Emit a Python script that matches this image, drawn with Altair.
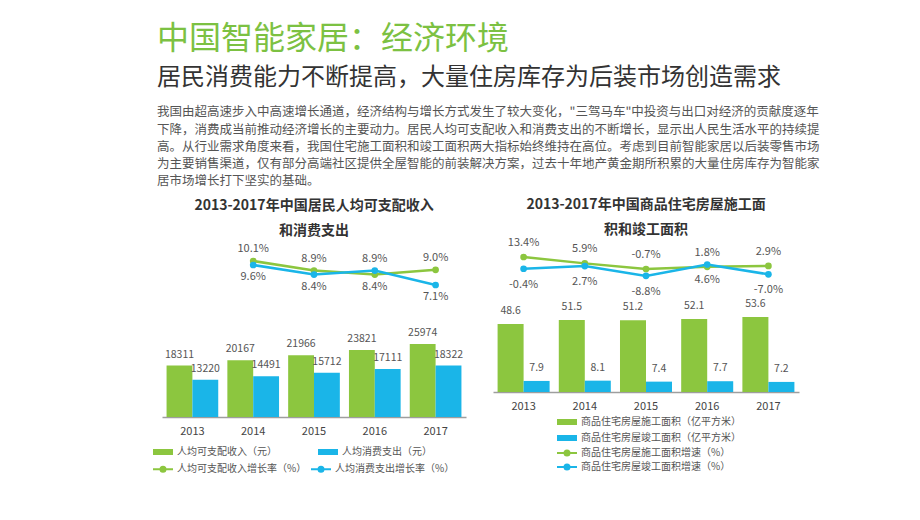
import altair as alt
import pandas as pd

FONT = "Noto Sans CJK SC"
GREEN = "#8cc63f"
BLUE = "#1ab5e8"
TITLE_GREEN = "#7cc142"
TEXT = "#555555"

# ---------------- data ----------------
years = ["2013", "2014", "2015", "2016", "2017"]

# left panel
income = [18311, 20167, 21966, 23821, 25974]
consumption = [13220, 14491, 15712, 17111, 18322]
left_rate_years = ["2014", "2015", "2016", "2017"]
income_growth = [10.1, 8.9, 8.4, 9.0]
consumption_growth = [9.6, 8.4, 8.9, 7.1]
L_BAR = ["人均可支配收入（元）", "人均消费支出（元）"]
L_LINE = ["人均可支配收入增长率（%）", "人均消费支出增长率（%）"]
L_TITLE = ["2013-2017年中国居民人均可支配收入", "和消费支出"]

# right panel
construction = [48.6, 51.5, 51.2, 52.1, 53.6]
completion = [7.9, 8.1, 7.4, 7.7, 7.2]
right_rate_years = ["2013", "2014", "2015", "2016", "2017"]
construction_growth = [13.4, 5.9, -0.7, 1.8, 2.9]
completion_growth = [-0.4, 2.7, -8.8, 4.6, -7.0]
R_BAR = ["商品住宅房屋施工面积（亿平方米）", "商品住宅房屋竣工面积（亿平方米）"]
R_LINE = ["商品住宅房屋施工面积增速（%）", "商品住宅房屋竣工面积增速（%）"]
R_TITLE = ["2013-2017年中国商品住宅房屋施工面", "积和竣工面积"]

MAIN_TITLE = "中国智能家居：经济环境"
SUB_TITLE = "居民消费能力不断提高，大量住房库存为后装市场创造需求"
PARAGRAPH = [
    "我国由超高速步入中高速增长通道，经济结构与增长方式发生了较大变化，\"三驾马车\"中投资与出口对经济的贡献度逐年",
    "下降，消费成当前推动经济增长的主要动力。居民人均可支配收入和消费支出的不断增长，显示出人民生活水平的持续提",
    "高。从行业需求角度来看，我国住宅施工面积和竣工面积两大指标始终维持在高位。考虑到目前智能家居以后装零售市场",
    "为主要销售渠道，仅有部分高端社区提供全屋智能的前装解决方案，过去十年地产黄金期所积累的大量住房库存为智能家",
    "居市场增长打下坚实的基础。",
]

# legend symbol shapes (unit path, scaled by sqrt(size)/2)
RECT_PATH = "M-2,-0.6H2V0.6H-2Z"
LINE_PATH = ("M-2,0H2 "
             "M0.1,0A0.1,0.1 0 1 1 -0.1,0A0.1,0.1 0 1 1 0.1,0 "
             "M0.3,0A0.3,0.3 0 1 1 -0.3,0A0.3,0.3 0 1 1 0.3,0 "
             "M0.5,0A0.5,0.5 0 1 1 -0.5,0A0.5,0.5 0 1 1 0.5,0")


def make_legend(shape, columns, lx, ly, row_pad, col_pad, stroke_w=None):
    kw = dict(title=None, orient="none", legendX=lx, legendY=ly, columns=columns,
              direction="horizontal", symbolType=shape, symbolSize=100,
              labelOffset=8, rowPadding=row_pad, columnPadding=col_pad,
              labelFont=FONT, labelFontSize=10, labelColor=TEXT, labelLimit=400,
              padding=0, symbolOpacity=1)
    if stroke_w is not None:
        kw["symbolStrokeWidth"] = stroke_w
    return alt.Legend(**kw)


def panel(bar_names, bar_a, bar_b, line_names, rate_years, rate_a, rate_b,
          width, height, bar_dom, rate_dom, title, bar_fmt, bar_dy,
          by_value, dy_top, dy_bot, axis_offset, bar_legend, line_legend):
    bars = pd.DataFrame({
        "year": years + years,
        "series": [bar_names[0]] * len(years) + [bar_names[1]] * len(years),
        "value": bar_a + bar_b,
    })
    rates = pd.DataFrame({
        "year": rate_years + rate_years,
        "series": [line_names[0]] * len(rate_years) + [line_names[1]] * len(rate_years),
        "rate": rate_a + rate_b,
    })

    bar_scale = alt.Scale(domain=bar_names, range=[GREEN, BLUE])
    line_scale = alt.Scale(domain=line_names, range=[GREEN, BLUE])
    x = alt.X("year:N",
              scale=alt.Scale(domain=years, paddingInner=0.15, paddingOuter=0.075),
              axis=alt.Axis(title=None, labelAngle=0, ticks=False, labelFont=FONT,
                            labelFontSize=11, labelColor="#444", labelPadding=8,
                            domainColor="#9e9e9e", domainWidth=1.5, grid=False,
                            offset=axis_offset))
    xoff = alt.XOffset("series:N", scale=alt.Scale(domain=bar_names))
    ybar = alt.Y("value:Q", scale=alt.Scale(domain=bar_dom, nice=False, zero=True),
                 axis=None)
    yrate = alt.Y("rate:Q", scale=alt.Scale(domain=rate_dom, nice=False, zero=False),
                  axis=None)

    base_bar = alt.Chart(bars)
    bar_layer = base_bar.mark_bar().encode(
        x=x, xOffset=xoff, y=ybar,
        color=alt.Color("series:N", scale=bar_scale, legend=bar_legend))
    bar_text = base_bar.mark_text(font=FONT, fontSize=10.5, color=TEXT, dy=bar_dy).encode(
        x=x, xOffset=xoff, y=ybar, text=alt.Text("value:Q", format=bar_fmt))

    base_rate = alt.Chart(rates).transform_calculate(
        label="(datum.rate < 0 ? '-' : '') + format(abs(datum.rate), '.1f') + '%'"
    ).transform_joinaggregate(maxr="max(rate)", groupby=["year"])
    line_layer = base_rate.mark_line(strokeWidth=2.5).encode(
        x=x, y=yrate, stroke=alt.Stroke("series:N", scale=line_scale, legend=line_legend))
    pts = base_rate.mark_circle(size=45, opacity=1).encode(
        x=x, y=yrate, fill=alt.Fill("series:N", scale=line_scale, legend=None))
    if by_value:
        top_f = "datum.rate == datum.maxr"
        bot_f = "datum.rate != datum.maxr"
    else:
        top_f = f"datum.series == '{line_names[0]}'"
        bot_f = f"datum.series == '{line_names[1]}'"
    top_text = base_rate.transform_filter(top_f).mark_text(
        font=FONT, fontSize=11, color=TEXT, dy=dy_top).encode(x=x, y=yrate, text="label:N")
    bot_text = base_rate.transform_filter(bot_f).mark_text(
        font=FONT, fontSize=11, color=TEXT, dy=dy_bot).encode(x=x, y=yrate, text="label:N")

    return alt.layer(bar_layer, bar_text, line_layer, pts, top_text, bot_text).resolve_scale(
        y="independent"
    ).properties(
        width=width, height=height,
        title=alt.TitleParams(text=title, font=FONT, fontSize=14, fontWeight="bold",
                              color="#333333", lineHeight=25, offset=0, anchor="middle"),
    )


left = panel(L_BAR, income, consumption, L_LINE, left_rate_years,
             income_growth, consumption_growth,
             width=304, height=179, bar_dom=[0, 63700], rate_dom=[-9.4, 12.975],
             title=L_TITLE, bar_fmt="d", bar_dy=-11, by_value=True,
             dy_top=-12, dy_bot=12, axis_offset=0,
             bar_legend=make_legend(RECT_PATH, 2, -5, 208, 6, 41),
             line_legend=make_legend(LINE_PATH, 2, -5, 225, 6, 0, stroke_w=2))

right = panel(R_BAR, construction, completion, R_LINE, right_rate_years,
              construction_growth, completion_growth,
              width=306, height=179, bar_dom=[-17.86, 110], rate_dom=[-174.8, 35.75],
              title=R_TITLE, bar_fmt=".1f", bar_dy=-13, by_value=False,
              dy_top=-14, dy_bot=16, axis_offset=-25,
              bar_legend=make_legend(RECT_PATH, 1, 68, 178, 5, 10),
              line_legend=make_legend(LINE_PATH, 1, 68, 209, 0, 10, stroke_w=2))

inner = alt.hconcat(
    left, right, spacing=27,
    title=alt.TitleParams(text=PARAGRAPH, font=FONT, fontSize=12.5, fontWeight="normal",
                          color=TEXT, lineHeight=17.3, anchor="start", offset=10),
).resolve_scale(color="independent", stroke="independent", fill="independent",
                x="independent", y="independent", xOffset="independent").resolve_legend(
    color="independent", stroke="independent", fill="independent")

chart = alt.vconcat(
    inner,
    title=alt.TitleParams(text=MAIN_TITLE, subtitle=SUB_TITLE, font=FONT, fontSize=32,
                          fontWeight="normal", color=TITLE_GREEN, subtitleFont=FONT,
                          subtitleFontSize=24, subtitleColor="#333333",
                          subtitlePadding=10, anchor="start", offset=15),
).resolve_scale(color="independent", stroke="independent", fill="independent",
                xOffset="independent").properties(
    padding={"left": 157, "top": 23, "right": 10, "bottom": 5},
).configure(font=FONT, view=alt.ViewConfig(stroke=None))

chart.save("out.html", embed_options={"renderer": "svg", "actions": False})
